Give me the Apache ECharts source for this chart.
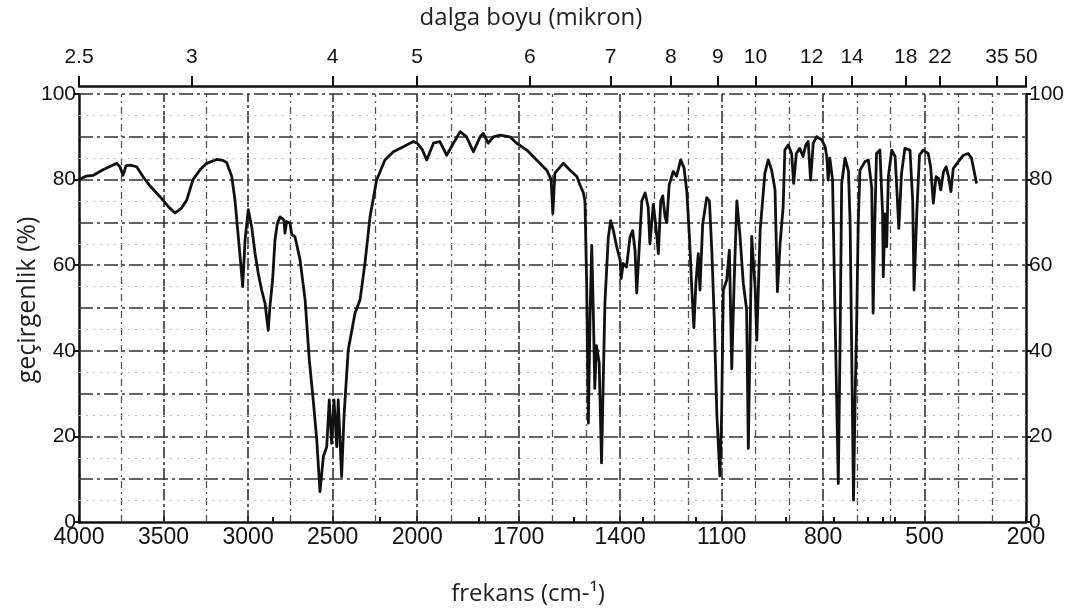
<!DOCTYPE html>
<html>
<head>
<meta charset="utf-8">
<script src="https://cdn.jsdelivr.net/npm/echarts@6/dist/echarts.min.js"></script>
<style>
html,body{margin:0;padding:0;background:#fff;}
#chart{width:1077px;height:613px;}
</style>
</head>
<body>
<div id="chart"></div>
<script>
// ---- data ----
const wavenumbers = [
4000,3959,3915,3858,3799,3777,3758,3740,3722,3698,3659,3622,3580,3521,3474,3432,3397,3363,3326,3284,
3245,3186,3149,3127,3097,3078,3058,3044,3032,3018,2999,2979,2959,2940,2920,2900,2881,2871,2855,2841,
2827,2811,2788,2782,2772,2752,2742,2723,2693,2663,2638,2615,2594,2575,2555,2535,2520,2506,2492,2476,
2467,2447,2433,2408,2368,2338,2309,2279,2240,2191,2141,2082,2023,2000,1985,1972,1952,1933,1913,1893,
1873,1854,1834,1814,1805,1790,1775,1755,1726,1706,1676,1647,1617,1604,1599,1593,1568,1548,1528,1519,
1509,1504,1499,1494,1489,1484,1479,1475,1470,1462,1455,1450,1445,1435,1428,1420,1410,1400,1397,1391,
1381,1371,1363,1356,1351,1344,1336,1326,1317,1312,1302,1294,1287,1280,1274,1267,1262,1255,1243,1233,
1221,1211,1203,1195,1188,1182,1176,1169,1164,1156,1144,1136,1129,1122,1114,1105,1100,1095,1085,1077,
1070,1063,1055,1046,1036,1026,1021,1011,1001,996,986,972,962,952,942,935,927,918,913,903,
893,887,879,869,859,851,844,837,829,819,804,794,789,785,780,772,765,755,750,745,
735,725,720,710,705,701,696,691,676,666,656,652,647,642,632,624,622,617,612,607,
597,587,582,576,568,558,543,535,531,523,515,504,489,482,474,466,459,452,444,436,
429,422,415,400,385,371,361,354,346
];
const transmittance = [
80,80.8,81,82.3,83.4,83.8,83,81,83.2,83.4,83,80.7,78.5,76,73.8,72.2,73.2,75.2,80,82.3,
83.8,84.7,84.5,84,80.8,75.3,66.7,60.5,55,65.9,73,69,62.8,58.1,54.2,51.1,44.8,50.3,56.6,65.9,
69.8,71.3,70.6,67.5,70.2,69.8,67.1,66.7,61.3,51.9,37.8,28.5,19.2,7.1,15.3,17.6,28.5,18.4,28.5,17.6,
28.5,10.6,24.6,40.2,48.8,51.9,60.5,71.3,79.9,84.6,86.5,87.7,88.9,88.5,87,84.6,88.5,88.9,85.7,88.5,
91.2,90,86.5,90,90.8,88.5,90,90.4,90,88.5,86.9,84.6,82.2,80,72.1,81.5,83.8,82.2,80.7,78.8,
77,75,55.8,23.1,48,64.6,48,31.2,41.2,37.3,13.8,32.7,51.2,66.5,70.4,68.1,64.2,61.2,56.9,60.4,
59.6,66.5,68.1,63.5,53.5,63.5,75,76.9,73.5,65,74.2,68.8,62.7,75,76.2,71.2,70,78.8,81.9,80.8,
84.6,82.7,77.3,66.5,54.2,45.4,55.8,62.7,54.2,69.6,75.8,75,63.5,48,25,10.8,25,54.2,56.5,63.5,
35.8,55.8,75,67.3,55.8,49.6,17.2,66.7,55,42.5,68.2,81.5,84.6,82.2,77.6,53.8,65.1,73.7,86.9,88.1,
86.1,79.1,86.1,87.3,85.4,88.1,88.9,79.9,88.5,90,89.3,87.7,85.4,79.9,85,80,50,9,40,79.1,
85,82,69.8,5.1,30,45,69.8,82.2,84.2,84.6,78,48.8,70,86.1,86.9,72,57.3,72,64.3,80.7,
86.9,85.4,78,68.6,81.5,87.3,86.9,75,54.2,72,85.7,86.9,86.1,83,74.5,80.7,80.3,77.6,81.8,83,
80.7,77.2,82.6,84.2,85.7,86.1,85,82.2,79.1
];
const freqTickLabels = [4000,3500,3000,2500,2000,1700,1400,1100,800,500,200];
const freqMajorGrid = [3500,3000,2500,2000,1700,1400,1100,800,500];
const freqMinorGrid = [3750,3250,2750,2250,1900,1800,1600,1500,1300,1200,1000,900,700,600,400,300];
const micronLabels = [2.5,3,4,5,6,7,8,9,10,12,14,18,22,35,50];
const micronMinorTicks = [3.5,4.5,5.5,6.5,7.5,8.5,11,13,15,16,17,20];
const transLabels = [0,20,40,60,80,100];
const transMajorGrid = [10,20,30,40,50,60,70,80,90,100];
const transMinorGrid = [5,15,25,35,45,55,65,75,85,95];

// ---- piecewise wavenumber scale (4000-2000 compressed 2x vs 2000-200) ----
function toPos(w){ return w >= 2000 ? 4000 - w : 2000 + (2000 - w) * 2; }
function fromPos(p){ return p <= 2000 ? 4000 - p : 2000 - (p - 2000) / 2; }
const POS_MIN = toPos(4000), POS_MAX = toPos(200);

const seriesData = wavenumbers.map((w,i)=>[toPos(w), transmittance[i]]);

const FONT = 'Liberation Sans';
const gridLines = [];
freqMajorGrid.forEach(w=>gridLines.push({xAxis: toPos(w), lineStyle:{color:'#333', width:1.6, type:[12,3,3,3]}}));
freqMinorGrid.forEach(w=>gridLines.push({xAxis: toPos(w), lineStyle:{color:'#555', width:1.3, type:[7,4,2,4]}}));
transMajorGrid.forEach(t=>gridLines.push({yAxis: t, lineStyle:{color:'#333', width:1.7, type:[14,4,3,4]}}));
transMinorGrid.forEach(t=>gridLines.push({yAxis: t, lineStyle:{color:'#bbb', width:1, type:[2,5]}}));

const chart = echarts.init(document.getElementById('chart'), null, {renderer:'canvas'});
chart.setOption({
  animation:false,
  backgroundColor:'#fff',
  grid:{left:79, right:51, top:94, bottom:91, containLabel:false, outerBoundsMode:'none'},
  graphic:[
    {type:'text', x:531, y:18, style:{text:'dalga boyu (mikron)', font:'24px "Open Sans"', fill:'#222', align:'center', verticalAlign:'middle'}},
    {type:'text', x:528, y:594, style:{text:'frekans (cm-\u00B9)', font:'24px "Open Sans"', fill:'#222', align:'center', verticalAlign:'middle'}},
    {type:'text', x:28, y:300, rotation:Math.PI/2, style:{text:'geçirgenlik (%)', font:'25px "Open Sans"', fill:'#222', align:'center', verticalAlign:'middle'}}
  ],
  xAxis:[
    {type:'value', min:POS_MIN, max:POS_MAX, position:'bottom',
     axisLine:{show:true, onZero:false, lineStyle:{color:'#111', width:2.5}},
     axisTick:{show:true, inside:true, length:6, lineStyle:{color:'#111', width:2}, customValues: freqTickLabels.map(toPos)},
     axisLabel:{show:true, customValues: freqTickLabels.map(toPos), formatter:(v)=>String(Math.round(fromPos(v))), color:'#111', fontSize:23, fontFamily:FONT, margin:4},
     splitLine:{show:false}},
    {type:'value', min:POS_MIN, max:POS_MAX, position:'top', offset:8,
     axisLine:{show:true, onZero:false, lineStyle:{color:'#111', width:2.5}},
     axisTick:{show:true, inside:false, length:10, lineStyle:{color:'#111', width:2}, customValues: micronLabels.map(m=>toPos(10000/m))},
     axisLabel:{show:true, customValues: micronLabels.map(m=>toPos(10000/m)), formatter:(v)=>String(Math.round(10000/fromPos(v)*10)/10), color:'#111', fontSize:21, fontFamily:FONT, margin:18},
     splitLine:{show:false}},
    {type:'value', min:POS_MIN, max:POS_MAX, position:'top', offset:8,
     axisLine:{show:false},
     axisTick:{show:true, inside:false, length:5, lineStyle:{color:'#111', width:2}, customValues: micronMinorTicks.map(m=>toPos(10000/m))},
     axisLabel:{show:false},
     splitLine:{show:false}}
  ],
  yAxis:[
    {type:'value', min:0, max:100, position:'left',
     axisLine:{show:true, onZero:false, lineStyle:{color:'#111', width:2.5}},
     axisTick:{show:true, length:5, lineStyle:{color:'#111', width:2}, customValues: transLabels},
     axisLabel:{customValues: transLabels, color:'#111', fontSize:21, fontFamily:FONT, margin:3},
     splitLine:{show:false}},
    {type:'value', min:0, max:100, position:'right',
     axisLine:{show:true, onZero:false, lineStyle:{color:'#111', width:2.5}},
     axisTick:{show:true, length:5, lineStyle:{color:'#111', width:2}, customValues: transLabels},
     axisLabel:{customValues: transLabels, color:'#111', fontSize:21, fontFamily:FONT, margin:3},
     splitLine:{show:false}}
  ],
  series:[
    {type:'line', data:[], xAxisIndex:0, yAxisIndex:0, z:1, silent:true,
     markLine:{silent:true, symbol:['none','none'], label:{show:false}, animation:false, data:gridLines}},
    {type:'line', data:seriesData, xAxisIndex:0, yAxisIndex:0, z:5, showSymbol:false, silent:true,
     lineStyle:{color:'#111', width:2.8, join:'round'}}
  ]
});
</script>
</body>
</html>
